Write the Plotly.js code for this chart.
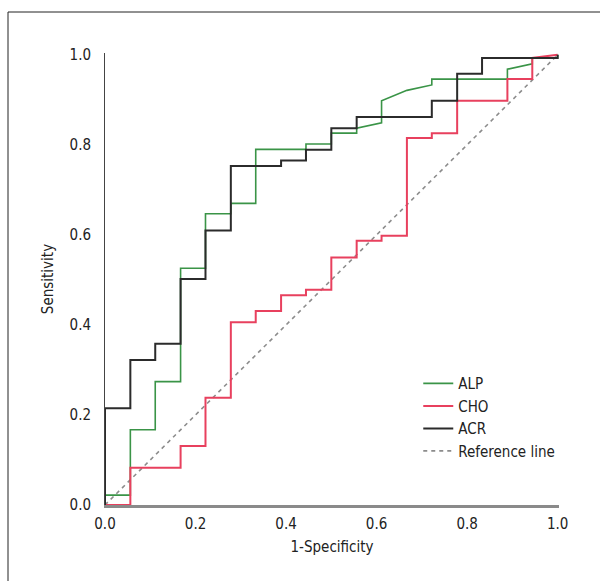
<!DOCTYPE html>
<html>
<head>
<meta charset="utf-8">
<script src="https://cdn.plot.ly/plotly-3.0.1.min.js"></script>
<style>html,body{margin:0;padding:0;background:#fff;}#chart{width:600px;height:581px;}</style>
</head>
<body>
<div id="chart"></div>
<script>
// ROC curve data (x = 1-Specificity, y = Sensitivity)
const alpX = [0, 0, 0.056, 0.056, 0.111, 0.111, 0.167, 0.167, 0.222, 0.222, 0.278, 0.278, 0.333, 0.333, 0.444, 0.444, 0.5, 0.5, 0.556, 0.556, 0.611, 0.611, 0.667, 0.722, 0.722, 0.889, 0.889, 0.944, 0.944, 1, 1];
const alpY = [0, 0.022, 0.022, 0.167, 0.167, 0.274, 0.274, 0.526, 0.526, 0.647, 0.647, 0.670, 0.670, 0.790, 0.790, 0.802, 0.802, 0.826, 0.826, 0.837, 0.849, 0.898, 0.921, 0.933, 0.946, 0.946, 0.968, 0.980, 0.993, 0.993, 1.0];

const choX = [0, 0.056, 0.056, 0.167, 0.167, 0.222, 0.222, 0.278, 0.278, 0.333, 0.333, 0.389, 0.389, 0.444, 0.444, 0.5, 0.5, 0.556, 0.556, 0.611, 0.611, 0.667, 0.667, 0.722, 0.722, 0.778, 0.778, 0.889, 0.889, 0.944, 0.944, 1];
const choY = [0, 0, 0.083, 0.083, 0.131, 0.131, 0.238, 0.238, 0.406, 0.406, 0.431, 0.431, 0.466, 0.466, 0.478, 0.478, 0.550, 0.550, 0.587, 0.587, 0.598, 0.598, 0.815, 0.815, 0.826, 0.826, 0.898, 0.898, 0.946, 0.946, 0.993, 1.0];

const acrX = [0, 0, 0.056, 0.056, 0.111, 0.111, 0.167, 0.167, 0.222, 0.222, 0.278, 0.278, 0.389, 0.389, 0.444, 0.444, 0.5, 0.5, 0.556, 0.556, 0.722, 0.722, 0.778, 0.778, 0.833, 0.833, 1, 1];
const acrY = [0, 0.215, 0.215, 0.322, 0.322, 0.358, 0.358, 0.502, 0.502, 0.610, 0.610, 0.753, 0.753, 0.765, 0.765, 0.789, 0.789, 0.837, 0.837, 0.862, 0.862, 0.898, 0.898, 0.958, 0.958, 0.993, 0.993, 1.0];

const refX = [0, 1];
const refY = [0, 1];

const seriesNames = ["ALP", "CHO", "ACR", "Reference line"];
const tickVals = [0, 0.2, 0.4, 0.6, 0.8, 1.0];
const tickText = ["0.0", "0.2", "0.4", "0.6", "0.8", "1.0"];

const FONT = "Liberation Sans Narrow, DejaVu Sans Condensed, Arial Narrow, sans-serif";

const traces = [
  {x: refX, y: refY, name: seriesNames[3], mode: "lines", legendrank: 4,
   line: {color: "#8c8c8c", width: 1.6, dash: "4px,4px"}},
  {x: alpX, y: alpY, name: seriesNames[0], mode: "lines", legendrank: 1,
   line: {color: "#3a9447", width: 1.6}},
  {x: choX, y: choY, name: seriesNames[1], mode: "lines", legendrank: 2,
   line: {color: "#e8405e", width: 2}},
  {x: acrX, y: acrY, name: seriesNames[2], mode: "lines", legendrank: 3,
   line: {color: "#2b2b2b", width: 2}}
];

const layout = {
  width: 600, height: 581,
  margin: {l: 105, r: 41, t: 53, b: 76},
  paper_bgcolor: "#ffffff", plot_bgcolor: "#ffffff",
  font: {family: FONT, size: 15, color: "#222"},
  showlegend: true,
  legend: {x: 0.69, y: 0.305, xanchor: "left", yanchor: "top",
           bgcolor: "rgba(0,0,0,0)", font: {family: FONT, size: 15, color: "#222"},
           tracegroupgap: 0},
  xaxis: {range: [0, 1.003], tickvals: tickVals, ticktext: tickText,
          showgrid: false, zeroline: false, showline: true, linecolor: "#8a8a8a", linewidth: 2.5,
          ticks: "", ticklabelstandoff: 3,
          title: {text: "1-Specificity", font: {family: FONT, size: 15, color: "#222"}, standoff: 10}},
  yaxis: {range: [0, 1.004], tickvals: tickVals, ticktext: tickText,
          showgrid: false, zeroline: false, showline: true, linecolor: "#444", linewidth: 1,
          ticks: "", ticklabelstandoff: 10,
          title: {text: "Sensitivity", font: {family: FONT, size: 15, color: "#222"}, standoff: 12}},
  shapes: [
    {type: "rect", xref: "paper", yref: "paper",
     x0: (8 - 105) / 454, x1: 2, y0: -1, y1: (505 - 12) / 452,
     line: {color: "#222", width: 1}, fillcolor: "rgba(0,0,0,0)", layer: "below"}
  ]
};

Plotly.newPlot("chart", traces, layout, {displayModeBar: false, staticPlot: true});
</script>
</body>
</html>
